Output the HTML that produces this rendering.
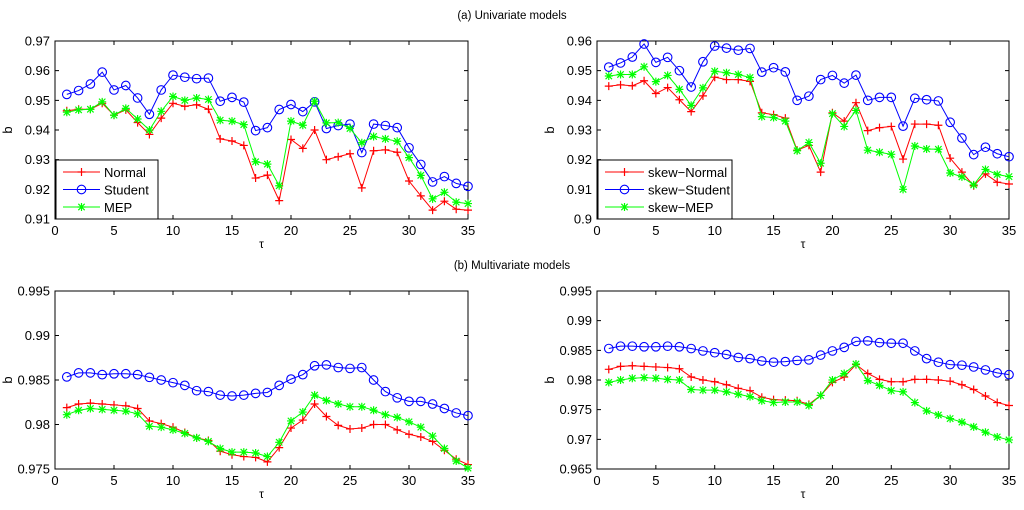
<!DOCTYPE html>
<html><head><meta charset="utf-8"><style>
html,body{margin:0;padding:0;background:#fff}
svg{display:block;font-family:"Liberation Sans",Arial,sans-serif}
</style></head><body>
<svg id="fig" width="1024" height="510" viewBox="0 0 1024 510" xmlns="http://www.w3.org/2000/svg">
<text x="512" y="19" font-size="11.5" text-anchor="middle">(a) Univariate models</text>
<text x="512" y="269" font-size="11.5" text-anchor="middle">(b) Multivariate models</text>
</svg>
<script>
const xTicks=[0,5,10,15,20,25,30,35];
const tau=[1,2,3,4,5,6,7,8,9,10,11,12,13,14,15,16,17,18,19,20,21,22,23,24,25,26,27,28,29,30,31,32,33,34,35];
const tlNormal=[.9465,.947,.947,.949,.945,.9468,.9425,.9385,.944,.949,.948,.9485,.947,.937,.9363,.9348,.9238,.9248,.9162,.9368,.9338,.940,.930,.931,.932,.9205,.933,.9333,.9325,.9228,.9178,.913,.916,.9133,.913];
const tlStudent=[.952,.9533,.9555,.9595,.9535,.955,.9508,.9453,.9535,.9585,.9578,.9573,.9575,.9497,.951,.9494,.9398,.9408,.9469,.9486,.9462,.9495,.9405,.9415,.942,.9324,.942,.9415,.9408,.934,.9284,.9225,.9243,.922,.921];
const tlMEP=[.946,.9468,.947,.9495,.945,.9473,.9437,.940,.9463,.9513,.950,.9508,.9503,.9433,.943,.9418,.9293,.9285,.9212,.943,.9416,.9497,.9424,.9425,.9405,.9357,.9378,.937,.9362,.9307,.9247,.9168,.919,.9157,.9152];
const trNormal=[.9448,.9452,.9449,.9466,.9423,.9443,.9402,.9362,.9415,.9478,.947,.947,.9464,.9358,.9352,.934,.9232,.9248,.9158,.9358,.933,.9392,.9298,.9308,.9312,.9202,.932,.932,.9316,.9205,.9158,.9112,.9152,.9124,.9118];
const trStudent=[.9512,.9526,.9546,.959,.9528,.9545,.950,.9445,.953,.9583,.9576,.9569,.9575,.9495,.951,.9496,.940,.9414,.947,.9484,.9458,.9485,.940,.941,.941,.9313,.9407,.9402,.9398,.9326,.9273,.9217,.9242,.922,.921];
const trMEP=[.9482,.9487,.9487,.9513,.9463,.9484,.9437,.9383,.9442,.9498,.9493,.9487,.9477,.9345,.9342,.933,.923,.9258,.9188,.9355,.9312,.9366,.9232,.9225,.9218,.910,.9246,.9236,.9235,.9155,.9142,.9115,.9167,.915,.9143];
const blStudent=[.98535,.9858,.9858,.9856,.9857,.9857,.9856,.9853,.9850,.9847,.9844,.9838,.9837,.9833,.9832,.9833,.9835,.9836,.9844,.9851,.9856,.9866,.9867,.9864,.9863,.9864,.9850,.9837,.9830,.9826,.9826,.9823,.9818,.9813,.9810];
const blNormal=[.9819,.9823,.9824,.9823,.9822,.9821,.9818,.9804,.9801,.9797,.9791,.9785,.9782,.9770,.9766,.9764,.9763,.9758,.9774,.9796,.9805,.9823,.9809,.9799,.9795,.9796,.9800,.9800,.9794,.9789,.9786,.9781,.9771,.9761,.9755];
const blMEP=[.9811,.9816,.9818,.9817,.9816,.9815,.9812,.9798,.9797,.9794,.9790,.9785,.9781,.9773,.9769,.9769,.9768,.9764,.9780,.9804,.9814,.9833,.9827,.9823,.9820,.9820,.9816,.9811,.9808,.9803,.9797,.9787,.9773,.9759,.9751];
const brStudent=[.9853,.9857,.9857,.9856,.9856,.9857,.9856,.9853,.9849,.9846,.9843,.9838,.9836,.9832,.9830,.9831,.9833,.9834,.9842,.9849,.9855,.9865,.9866,.9863,.9862,.9862,.9849,.9836,.9830,.9826,.9825,.9822,.9817,.9812,.9809];
const brNormal=[.9818,.9823,.9824,.9823,.9822,.9821,.9819,.9805,.9800,.9797,.9792,.9786,.9782,.9771,.9767,.9766,.9765,.9759,.9774,.9796,.9805,.9826,.9811,.9801,.9797,.9797,.9801,.9801,.9800,.9798,.9792,.9784,.9773,.9762,.9757];
const brMEP=[.9796,.9800,.9803,.9804,.9803,.9801,.9800,.9784,.9783,.9783,.9780,.9776,.9772,.9765,.9762,.9763,.9763,.9757,.9774,.9800,.9811,.9827,.9799,.9791,.9782,.9780,.9762,.9748,.9741,.9735,.9729,.9721,.9712,.9704,.9699];
const tlYTicks=["0.91","0.92","0.93","0.94","0.95","0.96","0.97"];
const trYTicks=["0.9","0.91","0.92","0.93","0.94","0.95","0.96"];
const blYTicks=["0.975","0.98","0.985","0.99","0.995"];
const brYTicks=["0.965","0.97","0.975","0.98","0.985","0.99","0.995"];
const tlLegend=["Normal","Student","MEP"];
const trLegend=["skew\u2212Normal","skew\u2212Student","skew\u2212MEP"];

const NS="http://www.w3.org/2000/svg";
const svg=document.getElementById('fig');
function mk(tag,attrs,parent){const e=document.createElementNS(NS,tag);for(const k in attrs)e.setAttribute(k,attrs[k]);(parent||svg).appendChild(e);return e;}
const RED="#ff0000",BLUE="#0000ff",GREEN="#00ff00";

function marker(g,kind,x,y,color){
  if(kind==='plus'){
    const p=mk('path',{d:`M${x-4},${y}H${x+4}M${x},${y-4}V${y+4}`,stroke:color,'stroke-width':1.2,fill:'none'},g);
    
    
  }else if(kind==='circle'){
    const c=mk('circle',{cx:x,cy:y,r:4.3,stroke:color,'stroke-width':1.1,fill:'none'},g);
    
    
  }else{
    const d=3.2;
    const p=mk('path',{d:`M${x-4},${y}H${x+4}M${x},${y-4}V${y+4}M${x-d},${y-d}L${x+d},${y+d}M${x-d},${y+d}L${x+d},${y-d}`,stroke:color,'stroke-width':1.2,fill:'none'},g);
    
    
  }
}

function panel(name,L,T,R,B,ymin,ymax,yTicks,series,legend){
  const g=mk('g',{});
  
  
  const sx=v=>L+(v-0)/(35-0)*(R-L);
  const sy=v=>B-(v-ymin)/(ymax-ymin)*(B-T);
  const box=mk('rect',{x:L,y:T,width:R-L,height:B-T,fill:'none',stroke:'#000','stroke-width':1},g);
  
  
  xTicks.forEach(t=>{
    const x=sx(t);
    mk('path',{d:`M${x},${B}V${B-4}M${x},${T}V${T+4}`,stroke:'#000','stroke-width':1},g);
    const tx=mk('text',{x:x,y:B+16,'font-size':13,'text-anchor':'middle'},g);
    tx.textContent=t;
    
    
  });
  yTicks.forEach(t=>{
    const y=sy(parseFloat(t));
    mk('path',{d:`M${L},${y}H${L+4}M${R},${y}H${R-4}`,stroke:'#000','stroke-width':1},g);
    const tx=mk('text',{x:L-5,y:y+4.5,'font-size':13,'text-anchor':'end'},g);
    tx.textContent=t;
    
    
  });
  const xl=mk('text',{x:(L+R)/2,y:B+29,'font-size':12,'text-anchor':'middle'},g);
  xl.textContent='\u03c4';
  
  
  const yx=L-43;
  const yl=mk('text',{x:yx,y:(T+B)/2,'font-size':13,'text-anchor':'middle',transform:`rotate(-90 ${yx} ${(T+B)/2})`},g);
  yl.textContent='b';
  
  
  series.forEach(s=>{
    const sg=mk('g',{},g);
    
    
    const pts=s.vals.map((v,i)=>sx(tau[i]).toFixed(2)+','+sy(v).toFixed(2)).join(' ');
    const pl=mk('polyline',{points:pts,fill:'none',stroke:s.color,'stroke-width':1},sg);
    
    
    s.vals.forEach((v,i)=>marker(sg,s.kind,sx(tau[i]),sy(v),s.color));
  });
  if(legend){
    const lg=mk('g',{},g);
    
    
    const lw=legend.w;
    mk('rect',{x:L+1,y:B-59,width:lw,height:59,fill:'#fff',stroke:'#000','stroke-width':1},lg);
    legend.labels.forEach((lab,i)=>{
      const y=B-47+i*17.5;
      const s=series[i];
      const e=mk('g',{},lg);
      
      
      mk('line',{x1:L+8,y1:y,x2:L+8+legend.ll,y2:y,stroke:s.color,'stroke-width':1},e);
      marker(e,s.kind,L+8+legend.ll/2,y,s.color);
      const t=mk('text',{x:L+12+legend.ll,y:y+5,'font-size':13},e);
      t.textContent=lab;
    });
  }
}
panel('univariate-left-panel',55,41,468,219,0.91,0.97,tlYTicks,[
 {name:'normal-series',vals:tlNormal,color:RED,kind:'plus'},
 {name:'student-series',vals:tlStudent,color:BLUE,kind:'circle'},
 {name:'mep-series',vals:tlMEP,color:GREEN,kind:'star'}],{labels:tlLegend,w:102,ll:37});
panel('univariate-right-panel',597,41,1009,219,0.90,0.96,trYTicks,[
 {name:'skew-normal-series',vals:trNormal,color:RED,kind:'plus'},
 {name:'skew-student-series',vals:trStudent,color:BLUE,kind:'circle'},
 {name:'skew-mep-series',vals:trMEP,color:GREEN,kind:'star'}],{labels:trLegend,w:134,ll:39});
panel('multivariate-left-panel',55,291,468,469,0.975,0.995,blYTicks,[
 {name:'normal-series',vals:blNormal,color:RED,kind:'plus'},
 {name:'student-series',vals:blStudent,color:BLUE,kind:'circle'},
 {name:'mep-series',vals:blMEP,color:GREEN,kind:'star'}],null);
panel('multivariate-right-panel',597,291,1009,469,0.965,0.995,brYTicks,[
 {name:'skew-normal-series',vals:brNormal,color:RED,kind:'plus'},
 {name:'skew-student-series',vals:brStudent,color:BLUE,kind:'circle'},
 {name:'skew-mep-series',vals:brMEP,color:GREEN,kind:'star'}],null);
</script>
</body></html>
